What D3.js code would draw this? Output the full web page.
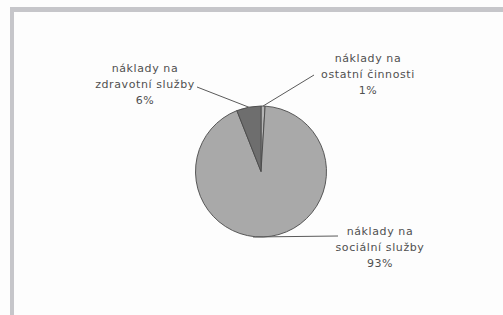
<!DOCTYPE html>
<html><head><meta charset="utf-8">
<script src="https://cdn.jsdelivr.net/npm/d3@7"></script>
<style>html,body{margin:0;padding:0;background:#fdfdfd;}svg{display:block;}</style>
</head><body>
<script>
const categories = ["náklady na ostatní činnosti", "náklady na sociální služby", "náklady na zdravotní služby"];
const labelLines = [["náklady na", "ostatní činnosti", "1%"], ["náklady na", "sociální služby", "93%"], ["náklady na", "zdravotní služby", "6%"]];
const values = [1, 93, 6];
const colors = ["#b4b4b4", "#a9a9a9", "#6e6e6e"];

const W = 503, H = 315;
const svg = d3.select("body").append("svg").attr("width", W).attr("height", H);
svg.append("rect").attr("width", W).attr("height", H).attr("fill", "#fdfdfd");
// frame
svg.append("rect").attr("x", 10).attr("y", 7).attr("width", W - 10).attr("height", 5).attr("fill", "#c6c6ca");
svg.append("rect").attr("x", 10).attr("y", 7).attr("width", 4).attr("height", H - 7).attr("fill", "#c6c6ca");

const cx = 261, cy = 171.5, r = 65.5;
const pie = d3.pie().sort(null).value(d => d)(values);
const arc = d3.arc().innerRadius(0).outerRadius(r);
const g = svg.append("g").attr("transform", `translate(${cx},${cy})`);
g.selectAll("path").data(pie).join("path")
  .attr("d", arc).attr("fill", (d, i) => colors[i])
  .attr("stroke", "#4a4a4a").attr("stroke-width", 0.9);

// label positions
const labelPos = [{x: 368, y: 58, anchor: [314, 75]}, {x: 380, y: 231, anchor: [338, 236]}, {x: 145, y: 68, anchor: [197, 87]}];
const arcPt = d => { const a = (d.startAngle + d.endAngle) / 2; return [cx + Math.sin(a) * r, cy - Math.cos(a) * r]; };
pie.forEach((d, i) => {
  let p = arcPt(d);
  if (i === 1) p = [cx - 8, cy + r];
  const lp = labelPos[i];
  svg.append("line").attr("x1", p[0]).attr("y1", p[1]).attr("x2", lp.anchor[0]).attr("y2", lp.anchor[1])
    .attr("stroke", "#5a5a5a").attr("stroke-width", 1);
  const t = svg.append("text").attr("font-family", "DejaVu Sans, sans-serif").attr("font-size", 11)
    .attr("letter-spacing", 0.6).attr("fill", "#505050").attr("text-anchor", "middle");
  labelLines[i].forEach((s, k) => t.append("tspan").attr("x", lp.x).attr("y", lp.y + 4 + k * 16).text(s));
});
</script>
</body></html>
